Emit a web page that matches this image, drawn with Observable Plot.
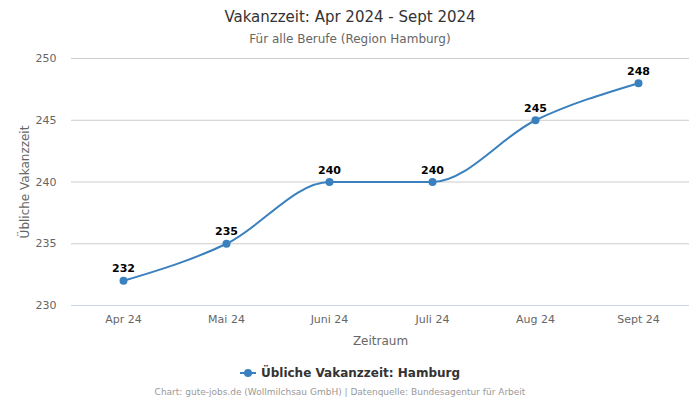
<!DOCTYPE html>
<html>
<head>
<meta charset="utf-8">
<script src="https://cdn.jsdelivr.net/npm/d3@7"></script>
<script src="https://cdn.jsdelivr.net/npm/@observablehq/plot@0.6"></script>
<style>
  body { margin: 0; background: #fff; font-family: "DejaVu Sans", sans-serif; }
  #wrap { width: 700px; position: relative; }
  .title { height: 28px; padding-top: 5px; box-sizing: border-box; text-align: center; font-size: 15px; color: #333; line-height: 24px; }
  .subtitle { height: 22px; text-align: center; font-size: 12px; color: #666; line-height: 22px; }
  .legend { height: 26px; text-align: center; font-size: 12px; font-weight: bold; color: #333; line-height: 26px; margin-top: 9px;}
  .caption { height: 14px; text-align: center; font-size: 9px; color: #999; line-height: 14px; padding-right: 20px; }
</style>
</head>
<body>
<div id="wrap">
  <div class="title">Vakanzzeit: Apr 2024 - Sept 2024</div>
  <div class="subtitle">Für alle Berufe (Region Hamburg)</div>
  <div id="chart"></div>
</div>
<script>
const months = ["Apr 24", "Mai 24", "Juni 24", "Juli 24", "Aug 24", "Sept 24"];
const values = [232, 235, 240, 240, 245, 248];
const yTicks = [230, 235, 240, 245, 250];
const seriesName = "Übliche Vakanzzeit: Hamburg";
const lineColor = "#3a80bf";

const data = months.map((m, i) => ({month: m, value: values[i]}));

const plot = Plot.plot({
  width: 700,
  height: 300,
  marginTop: 8,
  marginBottom: 45,
  marginLeft: 71,
  marginRight: 11,
  style: {fontFamily: "DejaVu Sans, sans-serif", fontSize: "11px", color: "#666", background: "#fff"},
  x: {type: "point", domain: months, padding: 0.5, label: null},
  y: {domain: [230, 250], ticks: yTicks, label: null},
  marks: [
    Plot.ruleY(yTicks.filter(t => t !== 230), {stroke: "#cccccc", strokeWidth: 1}),
    Plot.ruleY([230], {stroke: "#ccd6eb", strokeWidth: 1}),
    Plot.axisY({ticks: yTicks, tickSize: 0, tickPadding: 15, fill: "#666", fontSize: 11, label: null}),
    Plot.axisX({tickSize: 0, tickPadding: 10, fill: "#666", fontSize: 11, label: null}),
    Plot.text(["Zeitraum"], {frameAnchor: "bottom", dy: 39, fill: "#666", fontSize: 12}),
    Plot.text(["Übliche Vakanzzeit"], {frameAnchor: "left", textAnchor: "middle", rotate: -90, dx: -46, fill: "#666", fontSize: 12}),
    Plot.line(data, {x: "month", y: "value", stroke: lineColor, strokeWidth: 2, curve: "monotone-x"}),
    Plot.dot(data, {x: "month", y: "value", fill: lineColor, r: 4}),
    Plot.text(data, {x: "month", y: "value", text: d => String(d.value), dy: -12, fill: "#000", fontWeight: "bold", fontSize: 11, stroke: "#fff", strokeWidth: 3, paintOrder: "stroke"})
  ]
});
document.getElementById("chart").appendChild(plot);

const wrap = document.getElementById("wrap");
const leg = document.createElement("div");
leg.className = "legend";
leg.innerHTML = `<svg width="16" height="10" style="vertical-align:middle;margin-right:5px"><line x1="0" y1="5" x2="16" y2="5" stroke="${lineColor}" stroke-width="2"/><circle cx="8" cy="5" r="4" fill="${lineColor}"/></svg><span style="vertical-align:middle">${seriesName}</span>`;
wrap.appendChild(leg);
const cap = document.createElement("div");
cap.className = "caption";
cap.textContent = "Chart: gute-jobs.de (Wollmilchsau GmbH) | Datenquelle: Bundesagentur für Arbeit";
wrap.appendChild(cap);
</script>
</body>
</html>
